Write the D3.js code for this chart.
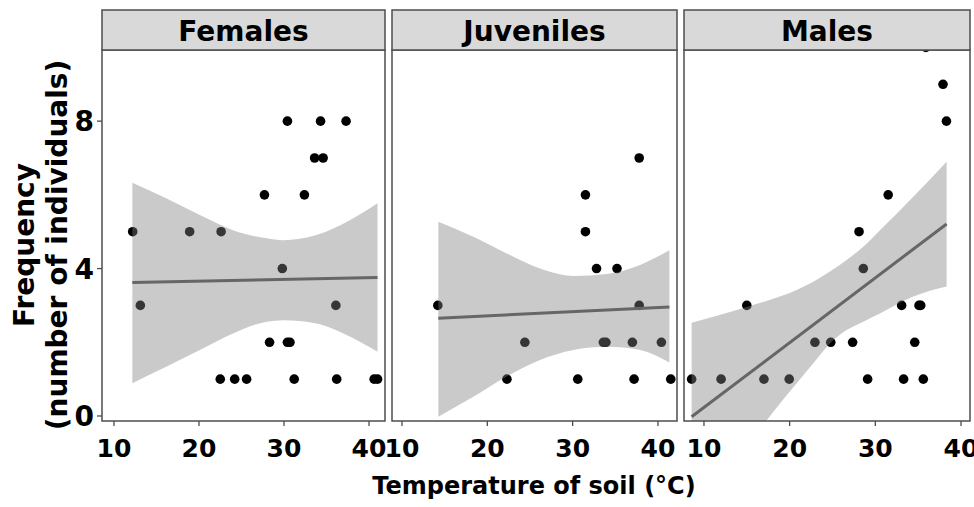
<!DOCTYPE html>
<html lang="en">
<head>
<meta charset="UTF-8">
<title>Frequency by soil temperature</title>
<script src="https://cdn.jsdelivr.net/npm/d3@7"></script>
<style>
  body { margin: 0; background: #fff; }
  text { font-family: "DejaVu Sans", sans-serif; font-weight: bold; fill: #000; }
</style>
</head>
<body>
<script>
const panelNames = ['Females', 'Juveniles', 'Males']
const xTicks = [10, 20, 30, 40]
const yTicks = [0, 4, 8]

// points
const femTemp = [30.4, 34.3, 37.3, 33.6, 34.6, 27.7, 32.4, 12.2, 18.9, 22.6, 29.8, 13.1, 36.1, 28.3, 30.4, 30.7, 22.5, 24.2, 25.6, 31.2, 36.2, 40.6, 41.0]
const femFreq = [8, 8, 8, 7, 7, 6, 6, 5, 5, 5, 4, 3, 3, 2, 2, 2, 1, 1, 1, 1, 1, 1, 1]
const juvTemp = [14.2, 22.3, 24.4, 30.6, 31.5, 31.5, 32.8, 33.6, 33.9, 35.2, 37.8, 37.8, 37.0, 37.2, 40.4, 41.5]
const juvFreq = [3, 1, 2, 1, 6, 5, 4, 2, 2, 4, 7, 3, 2, 1, 2, 1]
const malTemp = [8.56, 12.0, 15.0, 17.0, 19.95, 22.95, 24.8, 27.35, 28.1, 28.6, 29.1, 31.5, 33.07, 33.3, 34.6, 35.1, 35.3, 35.6, 35.9, 37.9, 38.3]
const malFreq = [1, 1, 3, 1, 1, 2, 2, 2, 5, 4, 1, 6, 3, 1, 2, 3, 3, 1, 10, 9, 8]

// confidence bands and fitted lines
const femBandTemp = [12.16, 16.2, 20.1, 24.0, 27.96, 29.9, 33.8, 37.8, 41.0]
const femBandHigh = [6.33, 5.90, 5.45, 5.04, 4.82, 4.77, 4.91, 5.32, 5.77]
const femBandLow = [0.89, 1.34, 1.79, 2.24, 2.56, 2.60, 2.51, 2.15, 1.74]
const femFitTemp = [12.16, 41.0]
const femFitFreq = [3.62, 3.76]

const juvBandTemp = [14.26, 18.36, 22.27, 26.18, 30.08, 34.0, 37.9, 41.34]
const juvBandHigh = [5.27, 4.86, 4.41, 4.0, 3.80, 3.85, 4.10, 4.50]
const juvBandLow = [-0.02, 0.52, 1.07, 1.52, 1.79, 1.88, 1.79, 1.45]
const juvFitTemp = [14.26, 41.34]
const juvFitFreq = [2.65, 2.96]

const malBandTemp = [8.56, 11.09, 14.98, 18.87, 20.82, 22.76, 24.7, 26.65, 28.59, 30.54, 34.43, 38.32]
const malBandHigh = [2.53, 2.69, 2.96, 3.24, 3.42, 3.64, 3.92, 4.23, 4.59, 5.04, 5.95, 6.9]
const malBandLow = [-2.53, -1.81, -0.80, 0.34, 0.89, 1.43, 1.97, 2.33, 2.56, 2.78, 3.24, 3.51]
const malFitTemp = [8.56, 38.32]
const malFitFreq = [-0.02, 5.21]

// x domain of each facet (free scales)
const xDomains = [[8.59, 41.88], [8.83, 42.23], [7.67, 41.05]]
const yDomain = [-0.136, 9.93]

const width = 974
const height = 507
const stripTop = 10
const panelTop = 50
const panelBottom = 421
const panelX = [[102, 385], [392, 677], [684, 970]]

const panels = [
  { temp: femTemp, freq: femFreq, bT: femBandTemp, bH: femBandHigh, bL: femBandLow, fT: femFitTemp, fF: femFitFreq },
  { temp: juvTemp, freq: juvFreq, bT: juvBandTemp, bH: juvBandHigh, bL: juvBandLow, fT: juvFitTemp, fF: juvFitFreq },
  { temp: malTemp, freq: malFreq, bT: malBandTemp, bH: malBandHigh, bL: malBandLow, fT: malFitTemp, fF: malFitFreq }
]

const svg = d3.select('body').append('svg')
  .attr('width', width)
  .attr('height', height)

const y = d3.scaleLinear().domain(yDomain).range([panelBottom, panelTop])

panels.forEach((p, i) => {
  const x = d3.scaleLinear().domain(xDomains[i]).range(panelX[i])
  const [x0, x1] = panelX[i]
  const g = svg.append('g')

  svg.append('clipPath').attr('id', 'clip' + i)
    .append('rect')
    .attr('x', x0).attr('y', panelTop)
    .attr('width', x1 - x0).attr('height', panelBottom - panelTop)

  const inner = g.append('g').attr('clip-path', `url(#clip${i})`)

  inner.append('rect')
    .attr('x', x0).attr('y', panelTop)
    .attr('width', x1 - x0).attr('height', panelBottom - panelTop)
    .attr('fill', '#fff')

  inner.selectAll('circle')
    .data(p.temp.map((t, k) => [t, p.freq[k]]))
    .enter()
    .append('circle')
    .attr('cx', (d) => x(d[0]))
    .attr('cy', (d) => y(d[1]))
    .attr('r', 4.8)
    .attr('fill', '#000')

  const band = d3.area()
    .x((d) => x(d[0]))
    .y0((d) => y(d[1]))
    .y1((d) => y(d[2]))
    .curve(d3.curveMonotoneX)

  inner.append('path')
    .datum(p.bT.map((t, k) => [t, p.bL[k], p.bH[k]]))
    .attr('d', band)
    .attr('fill', 'rgb(128,128,128)')
    .attr('fill-opacity', 0.42)

  inner.append('path')
    .datum(p.fT.map((t, k) => [t, p.fF[k]]))
    .attr('d', d3.line().x((d) => x(d[0])).y((d) => y(d[1])))
    .attr('stroke', '#666')
    .attr('stroke-width', 3)
    .attr('fill', 'none')

  // panel border
  g.append('rect')
    .attr('x', x0).attr('y', panelTop)
    .attr('width', x1 - x0).attr('height', panelBottom - panelTop)
    .attr('fill', 'none')
    .attr('stroke', '#4d4d4d')
    .attr('stroke-width', 1.5)

  // strip
  g.append('rect')
    .attr('x', x0).attr('y', stripTop)
    .attr('width', x1 - x0).attr('height', panelTop - stripTop)
    .attr('fill', '#d9d9d9')
    .attr('stroke', '#4d4d4d')
    .attr('stroke-width', 1.5)

  g.append('text')
    .attr('x', (x0 + x1) / 2)
    .attr('y', 41)
    .attr('text-anchor', 'middle')
    .attr('font-size', 28)
    .text(panelNames[i])

  // x axis
  g.selectAll('line.xt')
    .data(xTicks)
    .enter()
    .append('line')
    .attr('class', 'xt')
    .attr('x1', (d) => x(d)).attr('x2', (d) => x(d))
    .attr('y1', panelBottom).attr('y2', panelBottom + 5)
    .attr('stroke', '#4d4d4d')
    .attr('stroke-width', 1.3)

  g.selectAll('text.xl')
    .data(xTicks)
    .enter()
    .append('text')
    .attr('class', 'xl')
    .attr('x', (d) => x(d))
    .attr('y', 457)
    .attr('text-anchor', 'middle')
    .attr('font-size', 25)
    .text((d) => d)

  if (i === 0) {
    g.selectAll('line.yt')
      .data(yTicks)
      .enter()
      .append('line')
      .attr('class', 'yt')
      .attr('x1', x0 - 5).attr('x2', x0)
      .attr('y1', (d) => y(d)).attr('y2', (d) => y(d))
      .attr('stroke', '#4d4d4d')
      .attr('stroke-width', 1.3)

    g.selectAll('text.yl')
      .data(yTicks)
      .enter()
      .append('text')
      .attr('class', 'yl')
      .attr('x', x0 - 8)
      .attr('y', (d) => y(d) + 10)
      .attr('text-anchor', 'end')
      .attr('font-size', 28)
      .text((d) => d)
  }
})

svg.append('text')
  .attr('x', 534)
  .attr('y', 494)
  .attr('text-anchor', 'middle')
  .attr('font-size', 24)
  .text('Temperature of soil (°C)')

const yTitle = svg.append('text')
  .attr('transform', 'translate(0,245) rotate(-90)')
  .attr('text-anchor', 'middle')
  .attr('font-size', 28)

yTitle.append('tspan').attr('x', 0).attr('y', 34).text('Frequency')
yTitle.append('tspan').attr('x', 0).attr('y', 67).text('(number of individuals)')
</script>
</body>
</html>
